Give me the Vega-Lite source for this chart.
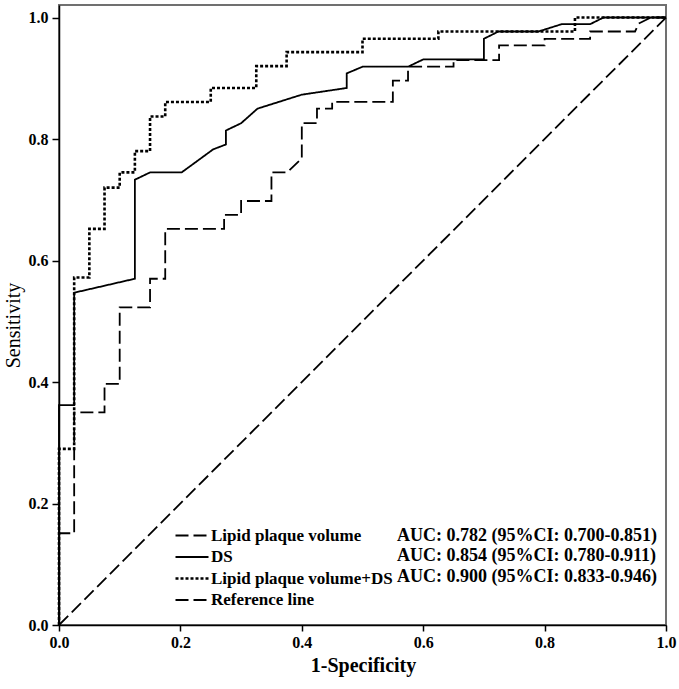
{
  "$schema": "https://vega.github.io/schema/vega-lite/v6.json",
  "width": 607,
  "height": 620,
  "autosize": {"type": "none"},
  "padding": {"left": 59, "top": 5, "right": 13, "bottom": 64},
  "background": "white",
  "config": {
    "view": {"stroke": "#707070", "strokeWidth": 2},
    "axis": {
      "grid": false,
      "domainColor": "black",
      "domainWidth": 1.5,
      "tickColor": "black",
      "tickWidth": 1.5,
      "labelFont": "Liberation Serif",
      "labelFontWeight": "bold",
      "labelFontSize": 16,
      "labelColor": "black",
      "titleFont": "Liberation Serif",
      "titleFontSize": 20,
      "titleColor": "black"
    }
  },
  "data": {
    "values": [
      {"series": "Lipid plaque volume", "auc": "AUC: 0.782 (95%CI: 0.700-0.851)", "x": 0, "y": 0},
      {"series": "Lipid plaque volume", "auc": "AUC: 0.782 (95%CI: 0.700-0.851)", "x": 0, "y": 0.151},
      {"series": "Lipid plaque volume", "auc": "AUC: 0.782 (95%CI: 0.700-0.851)", "x": 0.025, "y": 0.151},
      {"series": "Lipid plaque volume", "auc": "AUC: 0.782 (95%CI: 0.700-0.851)", "x": 0.025, "y": 0.35},
      {"series": "Lipid plaque volume", "auc": "AUC: 0.782 (95%CI: 0.700-0.851)", "x": 0.075, "y": 0.35},
      {"series": "Lipid plaque volume", "auc": "AUC: 0.782 (95%CI: 0.700-0.851)", "x": 0.075, "y": 0.397},
      {"series": "Lipid plaque volume", "auc": "AUC: 0.782 (95%CI: 0.700-0.851)", "x": 0.1, "y": 0.397},
      {"series": "Lipid plaque volume", "auc": "AUC: 0.782 (95%CI: 0.700-0.851)", "x": 0.1, "y": 0.523},
      {"series": "Lipid plaque volume", "auc": "AUC: 0.782 (95%CI: 0.700-0.851)", "x": 0.15, "y": 0.523},
      {"series": "Lipid plaque volume", "auc": "AUC: 0.782 (95%CI: 0.700-0.851)", "x": 0.15, "y": 0.57},
      {"series": "Lipid plaque volume", "auc": "AUC: 0.782 (95%CI: 0.700-0.851)", "x": 0.175, "y": 0.57},
      {"series": "Lipid plaque volume", "auc": "AUC: 0.782 (95%CI: 0.700-0.851)", "x": 0.175, "y": 0.652},
      {"series": "Lipid plaque volume", "auc": "AUC: 0.782 (95%CI: 0.700-0.851)", "x": 0.272, "y": 0.652},
      {"series": "Lipid plaque volume", "auc": "AUC: 0.782 (95%CI: 0.700-0.851)", "x": 0.272, "y": 0.675},
      {"series": "Lipid plaque volume", "auc": "AUC: 0.782 (95%CI: 0.700-0.851)", "x": 0.3, "y": 0.675},
      {"series": "Lipid plaque volume", "auc": "AUC: 0.782 (95%CI: 0.700-0.851)", "x": 0.3, "y": 0.698},
      {"series": "Lipid plaque volume", "auc": "AUC: 0.782 (95%CI: 0.700-0.851)", "x": 0.35, "y": 0.698},
      {"series": "Lipid plaque volume", "auc": "AUC: 0.782 (95%CI: 0.700-0.851)", "x": 0.35, "y": 0.745},
      {"series": "Lipid plaque volume", "auc": "AUC: 0.782 (95%CI: 0.700-0.851)", "x": 0.376, "y": 0.745},
      {"series": "Lipid plaque volume", "auc": "AUC: 0.782 (95%CI: 0.700-0.851)", "x": 0.4, "y": 0.768},
      {"series": "Lipid plaque volume", "auc": "AUC: 0.782 (95%CI: 0.700-0.851)", "x": 0.4, "y": 0.826},
      {"series": "Lipid plaque volume", "auc": "AUC: 0.782 (95%CI: 0.700-0.851)", "x": 0.425, "y": 0.826},
      {"series": "Lipid plaque volume", "auc": "AUC: 0.782 (95%CI: 0.700-0.851)", "x": 0.425, "y": 0.85},
      {"series": "Lipid plaque volume", "auc": "AUC: 0.782 (95%CI: 0.700-0.851)", "x": 0.45, "y": 0.85},
      {"series": "Lipid plaque volume", "auc": "AUC: 0.782 (95%CI: 0.700-0.851)", "x": 0.45, "y": 0.861},
      {"series": "Lipid plaque volume", "auc": "AUC: 0.782 (95%CI: 0.700-0.851)", "x": 0.55, "y": 0.861},
      {"series": "Lipid plaque volume", "auc": "AUC: 0.782 (95%CI: 0.700-0.851)", "x": 0.55, "y": 0.896},
      {"series": "Lipid plaque volume", "auc": "AUC: 0.782 (95%CI: 0.700-0.851)", "x": 0.575, "y": 0.896},
      {"series": "Lipid plaque volume", "auc": "AUC: 0.782 (95%CI: 0.700-0.851)", "x": 0.575, "y": 0.919},
      {"series": "Lipid plaque volume", "auc": "AUC: 0.782 (95%CI: 0.700-0.851)", "x": 0.65, "y": 0.919},
      {"series": "Lipid plaque volume", "auc": "AUC: 0.782 (95%CI: 0.700-0.851)", "x": 0.65, "y": 0.93},
      {"series": "Lipid plaque volume", "auc": "AUC: 0.782 (95%CI: 0.700-0.851)", "x": 0.725, "y": 0.93},
      {"series": "Lipid plaque volume", "auc": "AUC: 0.782 (95%CI: 0.700-0.851)", "x": 0.725, "y": 0.954},
      {"series": "Lipid plaque volume", "auc": "AUC: 0.782 (95%CI: 0.700-0.851)", "x": 0.8, "y": 0.954},
      {"series": "Lipid plaque volume", "auc": "AUC: 0.782 (95%CI: 0.700-0.851)", "x": 0.8, "y": 0.965},
      {"series": "Lipid plaque volume", "auc": "AUC: 0.782 (95%CI: 0.700-0.851)", "x": 0.875, "y": 0.965},
      {"series": "Lipid plaque volume", "auc": "AUC: 0.782 (95%CI: 0.700-0.851)", "x": 0.875, "y": 0.977},
      {"series": "Lipid plaque volume", "auc": "AUC: 0.782 (95%CI: 0.700-0.851)", "x": 0.949, "y": 0.977},
      {"series": "Lipid plaque volume", "auc": "AUC: 0.782 (95%CI: 0.700-0.851)", "x": 0.955, "y": 0.99},
      {"series": "Lipid plaque volume", "auc": "AUC: 0.782 (95%CI: 0.700-0.851)", "x": 0.975, "y": 1},
      {"series": "Lipid plaque volume", "auc": "AUC: 0.782 (95%CI: 0.700-0.851)", "x": 1, "y": 1},

      {"series": "DS", "auc": "AUC: 0.854 (95%CI: 0.780-0.911)", "x": 0, "y": 0},
      {"series": "DS", "auc": "AUC: 0.854 (95%CI: 0.780-0.911)", "x": 0, "y": 0.362},
      {"series": "DS", "auc": "AUC: 0.854 (95%CI: 0.780-0.911)", "x": 0.025, "y": 0.362},
      {"series": "DS", "auc": "AUC: 0.854 (95%CI: 0.780-0.911)", "x": 0.025, "y": 0.547},
      {"series": "DS", "auc": "AUC: 0.854 (95%CI: 0.780-0.911)", "x": 0.125, "y": 0.57},
      {"series": "DS", "auc": "AUC: 0.854 (95%CI: 0.780-0.911)", "x": 0.125, "y": 0.733},
      {"series": "DS", "auc": "AUC: 0.854 (95%CI: 0.780-0.911)", "x": 0.15, "y": 0.745},
      {"series": "DS", "auc": "AUC: 0.854 (95%CI: 0.780-0.911)", "x": 0.202, "y": 0.745},
      {"series": "DS", "auc": "AUC: 0.854 (95%CI: 0.780-0.911)", "x": 0.254, "y": 0.783},
      {"series": "DS", "auc": "AUC: 0.854 (95%CI: 0.780-0.911)", "x": 0.275, "y": 0.791},
      {"series": "DS", "auc": "AUC: 0.854 (95%CI: 0.780-0.911)", "x": 0.275, "y": 0.814},
      {"series": "DS", "auc": "AUC: 0.854 (95%CI: 0.780-0.911)", "x": 0.3, "y": 0.826},
      {"series": "DS", "auc": "AUC: 0.854 (95%CI: 0.780-0.911)", "x": 0.327, "y": 0.85},
      {"series": "DS", "auc": "AUC: 0.854 (95%CI: 0.780-0.911)", "x": 0.4, "y": 0.873},
      {"series": "DS", "auc": "AUC: 0.854 (95%CI: 0.780-0.911)", "x": 0.474, "y": 0.884},
      {"series": "DS", "auc": "AUC: 0.854 (95%CI: 0.780-0.911)", "x": 0.474, "y": 0.908},
      {"series": "DS", "auc": "AUC: 0.854 (95%CI: 0.780-0.911)", "x": 0.5, "y": 0.919},
      {"series": "DS", "auc": "AUC: 0.854 (95%CI: 0.780-0.911)", "x": 0.575, "y": 0.919},
      {"series": "DS", "auc": "AUC: 0.854 (95%CI: 0.780-0.911)", "x": 0.6, "y": 0.931},
      {"series": "DS", "auc": "AUC: 0.854 (95%CI: 0.780-0.911)", "x": 0.7, "y": 0.931},
      {"series": "DS", "auc": "AUC: 0.854 (95%CI: 0.780-0.911)", "x": 0.7, "y": 0.965},
      {"series": "DS", "auc": "AUC: 0.854 (95%CI: 0.780-0.911)", "x": 0.724, "y": 0.977},
      {"series": "DS", "auc": "AUC: 0.854 (95%CI: 0.780-0.911)", "x": 0.79, "y": 0.977},
      {"series": "DS", "auc": "AUC: 0.854 (95%CI: 0.780-0.911)", "x": 0.828, "y": 0.989},
      {"series": "DS", "auc": "AUC: 0.854 (95%CI: 0.780-0.911)", "x": 0.875, "y": 0.989},
      {"series": "DS", "auc": "AUC: 0.854 (95%CI: 0.780-0.911)", "x": 0.897, "y": 1},
      {"series": "DS", "auc": "AUC: 0.854 (95%CI: 0.780-0.911)", "x": 1, "y": 1},

      {"series": "Lipid plaque volume+DS", "auc": "AUC: 0.900 (95%CI: 0.833-0.946)", "x": 0, "y": 0},
      {"series": "Lipid plaque volume+DS", "auc": "AUC: 0.900 (95%CI: 0.833-0.946)", "x": 0, "y": 0.29},
      {"series": "Lipid plaque volume+DS", "auc": "AUC: 0.900 (95%CI: 0.833-0.946)", "x": 0.025, "y": 0.29},
      {"series": "Lipid plaque volume+DS", "auc": "AUC: 0.900 (95%CI: 0.833-0.946)", "x": 0.025, "y": 0.572},
      {"series": "Lipid plaque volume+DS", "auc": "AUC: 0.900 (95%CI: 0.833-0.946)", "x": 0.05, "y": 0.572},
      {"series": "Lipid plaque volume+DS", "auc": "AUC: 0.900 (95%CI: 0.833-0.946)", "x": 0.05, "y": 0.652},
      {"series": "Lipid plaque volume+DS", "auc": "AUC: 0.900 (95%CI: 0.833-0.946)", "x": 0.075, "y": 0.652},
      {"series": "Lipid plaque volume+DS", "auc": "AUC: 0.900 (95%CI: 0.833-0.946)", "x": 0.075, "y": 0.72},
      {"series": "Lipid plaque volume+DS", "auc": "AUC: 0.900 (95%CI: 0.833-0.946)", "x": 0.1, "y": 0.72},
      {"series": "Lipid plaque volume+DS", "auc": "AUC: 0.900 (95%CI: 0.833-0.946)", "x": 0.1, "y": 0.745},
      {"series": "Lipid plaque volume+DS", "auc": "AUC: 0.900 (95%CI: 0.833-0.946)", "x": 0.125, "y": 0.745},
      {"series": "Lipid plaque volume+DS", "auc": "AUC: 0.900 (95%CI: 0.833-0.946)", "x": 0.125, "y": 0.78},
      {"series": "Lipid plaque volume+DS", "auc": "AUC: 0.900 (95%CI: 0.833-0.946)", "x": 0.15, "y": 0.78},
      {"series": "Lipid plaque volume+DS", "auc": "AUC: 0.900 (95%CI: 0.833-0.946)", "x": 0.15, "y": 0.837},
      {"series": "Lipid plaque volume+DS", "auc": "AUC: 0.900 (95%CI: 0.833-0.946)", "x": 0.175, "y": 0.837},
      {"series": "Lipid plaque volume+DS", "auc": "AUC: 0.900 (95%CI: 0.833-0.946)", "x": 0.175, "y": 0.861},
      {"series": "Lipid plaque volume+DS", "auc": "AUC: 0.900 (95%CI: 0.833-0.946)", "x": 0.25, "y": 0.861},
      {"series": "Lipid plaque volume+DS", "auc": "AUC: 0.900 (95%CI: 0.833-0.946)", "x": 0.25, "y": 0.884},
      {"series": "Lipid plaque volume+DS", "auc": "AUC: 0.900 (95%CI: 0.833-0.946)", "x": 0.325, "y": 0.884},
      {"series": "Lipid plaque volume+DS", "auc": "AUC: 0.900 (95%CI: 0.833-0.946)", "x": 0.325, "y": 0.92},
      {"series": "Lipid plaque volume+DS", "auc": "AUC: 0.900 (95%CI: 0.833-0.946)", "x": 0.375, "y": 0.92},
      {"series": "Lipid plaque volume+DS", "auc": "AUC: 0.900 (95%CI: 0.833-0.946)", "x": 0.375, "y": 0.943},
      {"series": "Lipid plaque volume+DS", "auc": "AUC: 0.900 (95%CI: 0.833-0.946)", "x": 0.5, "y": 0.943},
      {"series": "Lipid plaque volume+DS", "auc": "AUC: 0.900 (95%CI: 0.833-0.946)", "x": 0.5, "y": 0.965},
      {"series": "Lipid plaque volume+DS", "auc": "AUC: 0.900 (95%CI: 0.833-0.946)", "x": 0.625, "y": 0.965},
      {"series": "Lipid plaque volume+DS", "auc": "AUC: 0.900 (95%CI: 0.833-0.946)", "x": 0.625, "y": 0.977},
      {"series": "Lipid plaque volume+DS", "auc": "AUC: 0.900 (95%CI: 0.833-0.946)", "x": 0.85, "y": 0.977},
      {"series": "Lipid plaque volume+DS", "auc": "AUC: 0.900 (95%CI: 0.833-0.946)", "x": 0.85, "y": 1},
      {"series": "Lipid plaque volume+DS", "auc": "AUC: 0.900 (95%CI: 0.833-0.946)", "x": 1, "y": 1},

      {"series": "Reference line", "auc": "", "x": 0, "y": 0},
      {"series": "Reference line", "auc": "", "x": 1, "y": 1}
    ]
  },
  "mark": {"type": "line", "color": "black", "strokeCap": "butt", "clip": false},
  "encoding": {
    "x": {
      "field": "x",
      "type": "quantitative",
      "scale": {"domain": [0, 1], "nice": false, "zero": false},
      "axis": {
        "values": [0, 0.2, 0.4, 0.6, 0.8, 1.0],
        "format": ".1f",
        "tickSize": 6,
        "labelPadding": 3,
        "labelFlush": false,
        "title": "1-Specificity",
        "titleFontWeight": "bold",
        "titleBaseline": "middle",
        "titleX": 304,
        "titleY": 40
      }
    },
    "y": {
      "field": "y",
      "type": "quantitative",
      "scale": {"domain": [0, 1.0206], "nice": false, "zero": false},
      "axis": {
        "values": [0, 0.2, 0.4, 0.6, 0.8, 1.0],
        "format": ".1f",
        "tickSize": 7,
        "labelPadding": 4,
        "labelFlush": false,
        "title": "Sensitivity",
        "titleFontWeight": "normal",
        "titleBaseline": "middle",
        "titleX": -46,
        "titleY": 320
      }
    },
    "strokeDash": {
      "field": "series",
      "type": "nominal",
      "scale": {
        "domain": ["Lipid plaque volume", "DS", "Lipid plaque volume+DS", "Reference line"],
        "range": [[13, 5], [1, 0], [3, 2], [13, 5]]
      },
      "legend": {
        "title": null,
        "orient": "none",
        "legendX": 124.5,
        "legendY": 522,
        "padding": 0,
        "symbolType": "M-3.3,0H3.3",
        "symbolSize": 100,
        "symbolStrokeColor": "black",
        "symbolStrokeWidth": 1.8,
        "symbolFillColor": "transparent",
        "labelFont": "Liberation Serif",
        "labelFontWeight": "bold",
        "labelFontSize": 17,
        "labelColor": "black",
        "labelOffset": 10.5,
        "labelLimit": 400,
        "rowPadding": 3.5,
        "encode": {
          "symbols": {
            "update": {
              "strokeWidth": {"signal": "datum.value === 'Lipid plaque volume+DS' ? 2.6 : 1.8"}
            }
          }
        }
      }
    },
    "color": {
      "field": "auc",
      "type": "nominal",
      "scale": {
        "domain": ["AUC: 0.782 (95%CI: 0.700-0.851)", "AUC: 0.854 (95%CI: 0.780-0.911)", "AUC: 0.900 (95%CI: 0.833-0.946)", ""],
        "range": ["black", "black", "black", "black"]
      },
      "legend": {
        "title": null,
        "orient": "none",
        "legendX": 320,
        "legendY": 521.5,
        "padding": 0,
        "symbolType": "M-3.3,0H3.3",
        "symbolSize": 100,
        "symbolOpacity": 0,
        "symbolStrokeWidth": 1.8,
        "labelFont": "Liberation Serif",
        "labelFontWeight": "bold",
        "labelFontSize": 18,
        "labelColor": "black",
        "labelOffset": 0,
        "labelLimit": 400,
        "rowPadding": 2.5
      }
    },
    "strokeWidth": {
      "condition": {"test": "datum.series === 'Lipid plaque volume+DS'", "value": 2.6},
      "value": 1.8
    },
    "order": {"value": null}
  }
}
